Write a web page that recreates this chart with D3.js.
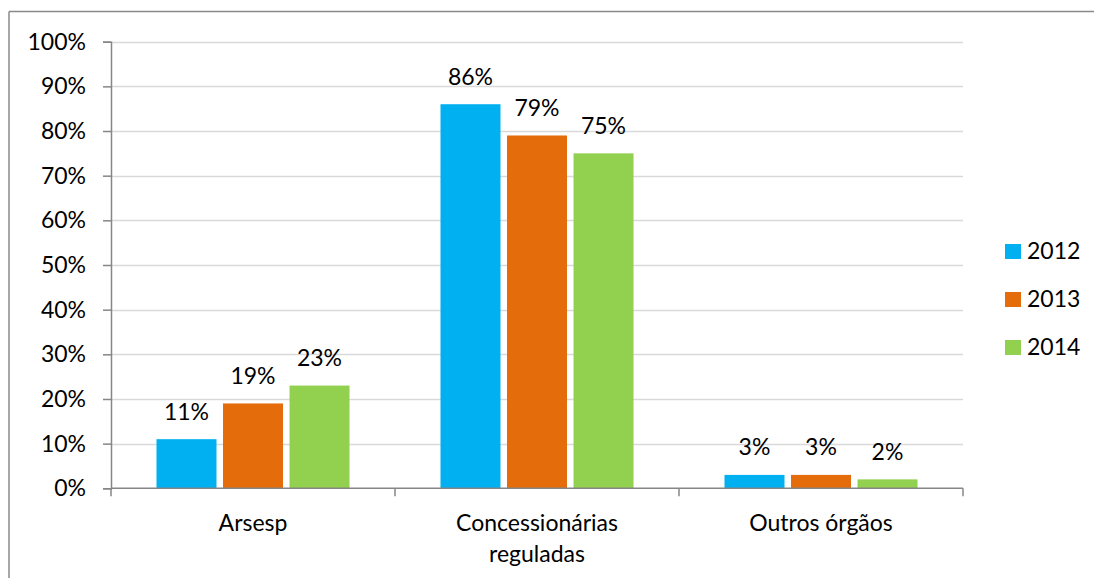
<!DOCTYPE html>
<html>
<head>
<meta charset="utf-8">
<script src="https://cdn.jsdelivr.net/npm/d3@7"></script>
<style>
  html, body { margin: 0; padding: 0; background: #fff; }
  svg { display: block; }
  text { font-family: Lato, "Open Sans", sans-serif; fill: #000; }
</style>
</head>
<body>
<script>
const categories = [["Arsesp"], ["Concessionárias", "reguladas"], ["Outros órgãos"]];
const seriesNames = ["2012", "2013", "2014"];
const values2012 = [0.11, 0.86, 0.03];
const values2013 = [0.19, 0.79, 0.03];
const values2014 = [0.23, 0.75, 0.02];
const yTicks = [0, 0.1, 0.2, 0.3, 0.4, 0.5, 0.6, 0.7, 0.8, 0.9, 1.0];
const colors = ["#00b0f0", "#e46c0a", "#92d050"];

const series = [values2012, values2013, values2014];
const W = 1094, H = 578;
const FS = 23;
const svg = d3.select("body").append("svg").attr("width", W).attr("height", H);

// outer border (top and left visible)
svg.append("line").attr("x1", 9).attr("x2", W).attr("y1", 11.5).attr("y2", 11.5)
  .attr("stroke", "#8a8a8a").attr("stroke-width", 1.5);
svg.append("line").attr("x1", 9).attr("x2", 9).attr("y1", 11.5).attr("y2", H)
  .attr("stroke", "#8a8a8a").attr("stroke-width", 1.5);

const pLeft = 111, pRight = 963, pTop = 41.7, pBottom = 488.3;
const catKeys = categories.map(c => c.join(" "));
const x0 = d3.scaleBand().domain(catKeys).range([pLeft, pRight]).padding(0);
const groupPad = 45.5;
const x1 = d3.scaleBand().domain(seriesNames)
  .range([groupPad, x0.bandwidth() - groupPad]).paddingInner(0.098).paddingOuter(0);
const y = d3.scaleLinear().domain([0, 1]).range([pBottom, pTop]);

// gridlines
svg.append("g").selectAll("line").data(yTicks.filter(d => d > 0)).join("line")
  .attr("x1", pLeft).attr("x2", pRight)
  .attr("y1", d => Math.round(y(d)) + 0.5).attr("y2", d => Math.round(y(d)) + 0.5)
  .attr("stroke", "#d9d9d9").attr("stroke-width", 1.5);

// y axis
const yAxis = svg.append("g").attr("transform", `translate(${pLeft},0)`)
  .call(d3.axisLeft(y).tickValues(yTicks).tickFormat(d3.format(".0%")).tickSize(8).tickPadding(17));
yAxis.select(".domain").attr("stroke", "#868686").attr("stroke-width", 1.5);
yAxis.selectAll(".tick line").attr("stroke", "#868686").attr("stroke-width", 1.5);
yAxis.selectAll(".tick text").attr("font-size", FS).attr("font-family", "Lato, sans-serif").attr("fill", "#000");

// bars
const groups = svg.append("g").selectAll("g").data(catKeys).join("g")
  .attr("transform", d => `translate(${x0(d)},0)`);
groups.selectAll("rect").data((d, i) => seriesNames.map((s, j) => ({ s, j, v: series[j][i] })))
  .join("rect")
  .attr("x", d => x1(d.s)).attr("width", x1.bandwidth())
  .attr("y", d => y(d.v)).attr("height", d => y(0) - y(d.v))
  .attr("fill", d => colors[d.j]);
groups.selectAll("text.lbl").data((d, i) => seriesNames.map((s, j) => ({ s, j, v: series[j][i] })))
  .join("text").attr("class", "lbl")
  .attr("x", d => x1(d.s) + x1.bandwidth() / 2)
  .attr("y", d => y(d.v) - 19.5)
  .attr("text-anchor", "middle").attr("font-size", FS)
  .text(d => d3.format(".0%")(d.v));

// x axis
const xAxis = svg.append("g").attr("transform", `translate(0,${pBottom})`);
xAxis.append("line").attr("x1", pLeft).attr("x2", pRight).attr("y1", 0).attr("y2", 0)
  .attr("stroke", "#868686").attr("stroke-width", 1.5);
const bounds = catKeys.map(k => x0(k)).concat([pRight]);
xAxis.selectAll("line.t").data(bounds).join("line").attr("class", "t")
  .attr("x1", d => d).attr("x2", d => d).attr("y1", 0).attr("y2", 8)
  .attr("stroke", "#868686").attr("stroke-width", 1.5);

svg.append("g").selectAll("text").data(categories).join("text")
  .attr("x", (d, i) => x0(catKeys[i]) + x0.bandwidth() / 2)
  .attr("y", 531)
  .attr("text-anchor", "middle").attr("font-size", FS)
  .selectAll("tspan").data(d => d).join("tspan")
  .attr("x", function () { return this.parentNode.getAttribute("x"); })
  .attr("dy", (d, i) => i === 0 ? 0 : 31)
  .text(d => d);

// legend
const legend = svg.append("g").selectAll("g").data(seriesNames).join("g")
  .attr("transform", (d, i) => `translate(1005,${244 + i * 48})`);
legend.append("rect").attr("width", 16).attr("height", 15).attr("fill", (d, i) => colors[i]);
legend.append("text").attr("x", 22).attr("y", 15).attr("font-size", FS).text(d => d);
</script>
</body>
</html>
